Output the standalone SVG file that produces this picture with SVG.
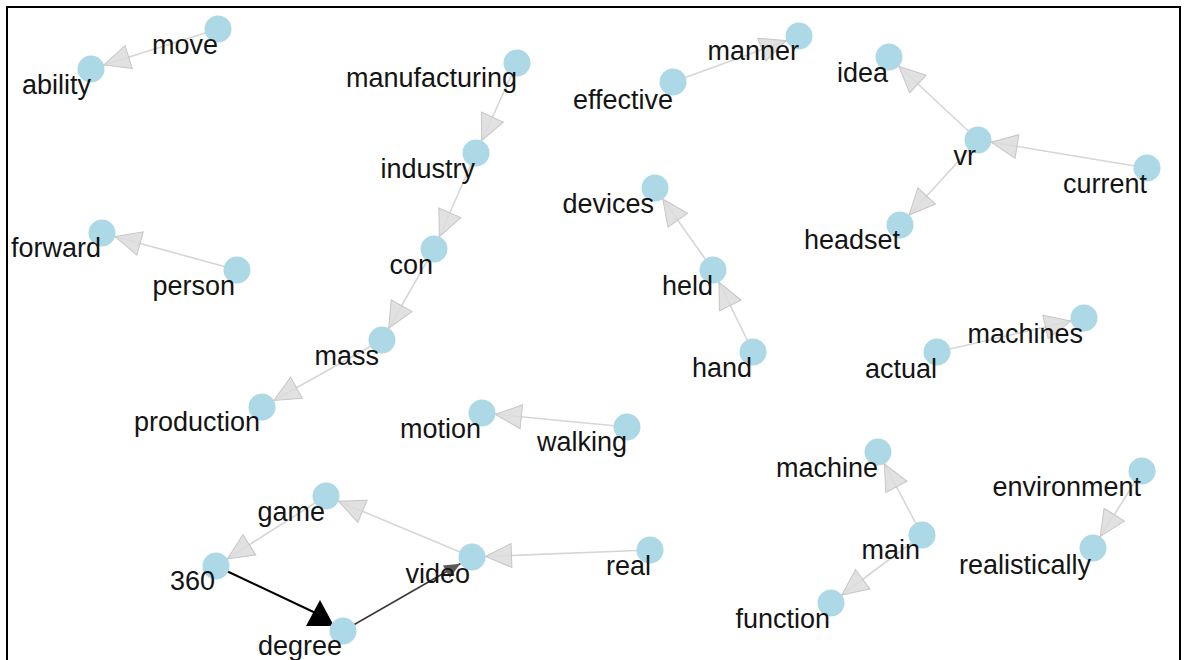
<svg xmlns="http://www.w3.org/2000/svg" width="1186" height="660" viewBox="0 0 1186 660">
<defs>
<style>
.e{stroke:#d6d6d6;stroke-width:1.6;fill:none}
.n circle{fill:#add8e6}
.n text{font-family:"Liberation Sans",Arial,sans-serif;font-size:27px;fill:#141414;text-anchor:end}
</style>
<marker id="ah" markerUnits="userSpaceOnUse" markerWidth="44" markerHeight="28" refX="39.5" refY="12" orient="auto" overflow="visible">
<path d="M0,0 L26,12 L0,24 Z" fill="#dcdcdc" fill-opacity="0.85" stroke="#c6c6c6" stroke-width="1"/>
</marker>
<marker id="ahd" markerUnits="userSpaceOnUse" markerWidth="30" markerHeight="16" refX="29.5" refY="7" orient="auto" overflow="visible">
<path d="M0,0 L16,7 L0,14 Z" fill="#5a5a5a"/>
</marker>
</defs>
<rect width="1186" height="660" fill="#fff"/>
<rect x="7" y="7" width="1173" height="680" fill="none" stroke="#000" stroke-width="2"/>
<g id="connectors">
<line class="e" x1="218" y1="29" x2="91" y2="69" marker-end="url(#ah)"/>
<line class="e" x1="517" y1="63" x2="476" y2="153" marker-end="url(#ah)"/>
<line class="e" x1="476" y1="153" x2="434" y2="249" marker-end="url(#ah)"/>
<line class="e" x1="434" y1="249" x2="382" y2="340" marker-end="url(#ah)"/>
<line class="e" x1="382" y1="340" x2="262" y2="407" marker-end="url(#ah)"/>
<line class="e" x1="237" y1="270" x2="102" y2="233" marker-end="url(#ah)"/>
<line class="e" x1="673" y1="82" x2="799" y2="36" marker-end="url(#ah)"/>
<line class="e" x1="978" y1="140" x2="889" y2="57" marker-end="url(#ah)"/>
<line class="e" x1="1147" y1="168" x2="978" y2="140" marker-end="url(#ah)"/>
<line class="e" x1="978" y1="140" x2="900" y2="225" marker-end="url(#ah)"/>
<line class="e" x1="713" y1="270" x2="655" y2="188" marker-end="url(#ah)"/>
<line class="e" x1="753" y1="352" x2="713" y2="270" marker-end="url(#ah)"/>
<line class="e" x1="937" y1="352" x2="1084" y2="318" marker-end="url(#ah)"/>
<line class="e" x1="627" y1="427" x2="482" y2="413" marker-end="url(#ah)"/>
<line class="e" x1="472" y1="557" x2="326" y2="496" marker-end="url(#ah)"/>
<line class="e" x1="326" y1="496" x2="216" y2="566" marker-end="url(#ah)"/>
<line class="e" x1="650" y1="550" x2="472" y2="557" marker-end="url(#ah)"/>
<line class="e" x1="922" y1="535" x2="878" y2="452" marker-end="url(#ah)"/>
<line class="e" x1="922" y1="535" x2="831" y2="603" marker-end="url(#ah)"/>
<line class="e" x1="1142" y1="471" x2="1093" y2="548" marker-end="url(#ah)"/>
<line x1="343" y1="631" x2="472" y2="557" stroke="#3a3a3a" stroke-width="1.6" marker-end="url(#ahd)"/>
<line x1="216" y1="566" x2="322" y2="616" stroke="#000" stroke-width="2"/>
<polygon points="306,626 334,626 320,600" fill="#000"/>
</g>
<g id="n-move" class="n"><circle cx="218" cy="29" r="13.5"/><text x="218" y="54">move</text></g>
<g id="n-ability" class="n"><circle cx="91" cy="69" r="13.5"/><text x="91" y="94">ability</text></g>
<g id="n-manufacturing" class="n"><circle cx="517" cy="63" r="13.5"/><text x="517" y="87">manufacturing</text></g>
<g id="n-industry" class="n"><circle cx="476" cy="153" r="13.5"/><text x="475" y="178">industry</text></g>
<g id="n-con" class="n"><circle cx="434" cy="249" r="13.5"/><text x="433" y="274">con</text></g>
<g id="n-mass" class="n"><circle cx="382" cy="340" r="13.5"/><text x="379" y="365">mass</text></g>
<g id="n-production" class="n"><circle cx="262" cy="407" r="13.5"/><text x="260" y="431">production</text></g>
<g id="n-forward" class="n"><circle cx="102" cy="233" r="13.5"/><text x="101" y="257">forward</text></g>
<g id="n-person" class="n"><circle cx="237" cy="270" r="13.5"/><text x="235" y="295">person</text></g>
<g id="n-effective" class="n"><circle cx="673" cy="82" r="13.5"/><text x="673" y="109">effective</text></g>
<g id="n-manner" class="n"><circle cx="799" cy="36" r="13.5"/><text x="799" y="60">manner</text></g>
<g id="n-idea" class="n"><circle cx="889" cy="57" r="13.5"/><text x="888" y="82">idea</text></g>
<g id="n-vr" class="n"><circle cx="978" cy="140" r="13.5"/><text x="976" y="165">vr</text></g>
<g id="n-current" class="n"><circle cx="1147" cy="168" r="13.5"/><text x="1147" y="193">current</text></g>
<g id="n-headset" class="n"><circle cx="900" cy="225" r="13.5"/><text x="900" y="249">headset</text></g>
<g id="n-devices" class="n"><circle cx="655" cy="188" r="13.5"/><text x="654" y="213">devices</text></g>
<g id="n-held" class="n"><circle cx="713" cy="270" r="13.5"/><text x="713" y="295">held</text></g>
<g id="n-hand" class="n"><circle cx="753" cy="352" r="13.5"/><text x="752" y="377">hand</text></g>
<g id="n-actual" class="n"><circle cx="937" cy="352" r="13.5"/><text x="937" y="378">actual</text></g>
<g id="n-machines" class="n"><circle cx="1084" cy="318" r="13.5"/><text x="1083" y="343">machines</text></g>
<g id="n-motion" class="n"><circle cx="482" cy="413" r="13.5"/><text x="481" y="438">motion</text></g>
<g id="n-walking" class="n"><circle cx="627" cy="427" r="13.5"/><text x="627" y="451">walking</text></g>
<g id="n-game" class="n"><circle cx="326" cy="496" r="13.5"/><text x="325" y="521">game</text></g>
<g id="n-360" class="n"><circle cx="216" cy="566" r="13.5"/><text x="215" y="590">360</text></g>
<g id="n-video" class="n"><circle cx="472" cy="557" r="13.5"/><text x="470" y="583">video</text></g>
<g id="n-real" class="n"><circle cx="650" cy="550" r="13.5"/><text x="651" y="575">real</text></g>
<g id="n-degree" class="n"><circle cx="343" cy="631" r="13.5"/><text x="342" y="655">degree</text></g>
<g id="n-machine" class="n"><circle cx="878" cy="452" r="13.5"/><text x="878" y="477">machine</text></g>
<g id="n-main" class="n"><circle cx="922" cy="535" r="13.5"/><text x="920" y="559">main</text></g>
<g id="n-function" class="n"><circle cx="831" cy="603" r="13.5"/><text x="830" y="628">function</text></g>
<g id="n-environment" class="n"><circle cx="1142" cy="471" r="13.5"/><text x="1141" y="496">environment</text></g>
<g id="n-realistically" class="n"><circle cx="1093" cy="548" r="13.5"/><text x="1091" y="574">realistically</text></g>
</svg>
